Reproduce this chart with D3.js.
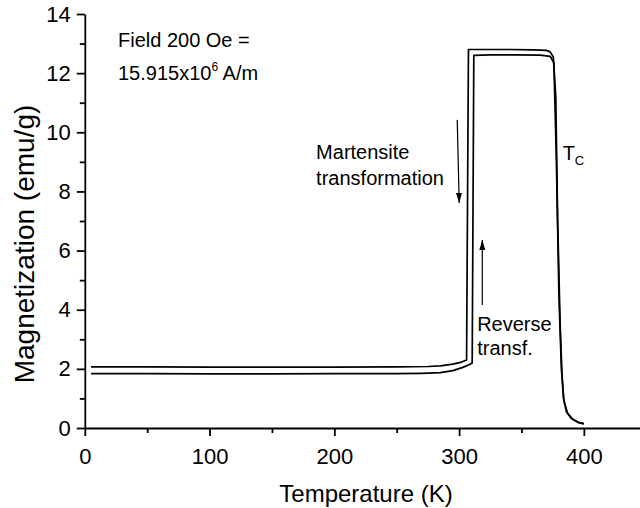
<!DOCTYPE html>
<html>
<head>
<meta charset="utf-8">
<script src="https://cdn.jsdelivr.net/npm/d3@7"></script>
<style>
    body { margin: 0; background: #fff; }
    svg text { font-family: "Liberation Sans", Arial, sans-serif; fill: #000; }
</style>
</head>
<body>
<svg id="chart" width="640" height="508"></svg>
<script>
// Cooling branch (outer loop, higher baseline)
const coolTemp = [5, 50, 100, 150, 200, 250, 275, 285, 295, 302, 306, 307.5, 320, 340, 360, 370, 373, 375.5, 377.5, 379, 381, 382.5, 384, 387, 391, 396, 400];
const coolMag  = [2.07, 2.07, 2.06, 2.06, 2.06, 2.07, 2.08, 2.1, 2.16, 2.23, 2.3, 12.8, 12.8, 12.8, 12.79, 12.77, 12.72, 12.55, 11.2, 7.0, 3.5, 1.8, 0.92, 0.5, 0.3, 0.18, 0.14];

// Warming branch (inner loop, lower baseline)
const heatTemp = [5, 50, 100, 150, 200, 250, 270, 285, 295, 303, 308, 310.5, 311.8, 325, 345, 365, 373, 376, 378, 380, 382, 383.7, 386, 390, 395, 400];
const heatMag  = [1.84, 1.84, 1.83, 1.83, 1.84, 1.84, 1.85, 1.87, 1.94, 2.05, 2.14, 2.2, 12.6, 12.62, 12.62, 12.61, 12.57, 12.35, 9.0, 4.5, 2.0, 1.0, 0.55, 0.32, 0.2, 0.15];

// Axis ticks
const xMajor = [0, 100, 200, 300, 400];
const xMinor = [50, 150, 250, 350];
const yMajor = [0, 2, 4, 6, 8, 10, 12, 14];
const yMinor = [1, 3, 5, 7, 9, 11, 13];

const svg = d3.select('#chart');

const x = d3.scaleLinear().domain([0, 445]).range([84.8, 640]);
const y = d3.scaleLinear().domain([0, 14]).range([428, 14]);

// Axes
const xAxis = svg.append('g')
    .attr('transform', `translate(0, ${y(0)})`)
    .call(d3.axisBottom(x).tickValues(xMajor).tickSize(8).tickPadding(12).tickSizeOuter(0));
svg.append('g')
    .attr('transform', `translate(0, ${y(0)})`)
    .call(d3.axisBottom(x).tickValues(xMinor).tickSize(5).tickFormat('').tickSizeOuter(0))
    .select('.domain').remove();

const yAxis = svg.append('g')
    .attr('transform', `translate(${x(0)}, 0)`)
    .call(d3.axisLeft(y).tickValues(yMajor).tickSize(8).tickPadding(6).tickSizeOuter(0));
svg.append('g')
    .attr('transform', `translate(${x(0)}, 0)`)
    .call(d3.axisLeft(y).tickValues(yMinor).tickSize(5).tickFormat('').tickSizeOuter(0))
    .select('.domain').remove();

svg.selectAll('.domain, .tick line')
    .attr('stroke', '#000')
    .attr('stroke-width', 1.8);
svg.selectAll('.tick text')
    .attr('font-size', '22px')
    .attr('fill', '#000');

// Axis titles
svg.append('text')
    .attr('x', 366)
    .attr('y', 502)
    .attr('text-anchor', 'middle')
    .attr('font-size', '24px')
    .text('Temperature (K)');

svg.append('text')
    .attr('transform', `translate(34, ${(y(0) + y(14)) / 2 + 23}) rotate(-90)`)
    .attr('text-anchor', 'middle')
    .attr('font-size', '28px')
    .text('Magnetization (emu/g)');

// Curves
const line = d3.line()
    .x(d => x(d[0]))
    .y(d => y(d[1]));

[[coolTemp, coolMag], [heatTemp, heatMag]].forEach(([t, m]) => {
    svg.append('path')
        .datum(t.map((v, i) => [v, m[i]]))
        .attr('fill', 'none')
        .attr('stroke', '#000')
        .attr('stroke-width', 1.7)
        .attr('stroke-linejoin', 'round')
        .attr('d', line);
});

// Annotations
function label(tx, my, str, size) {
    return svg.append('text')
        .attr('x', x(tx))
        .attr('y', y(my))
        .attr('font-size', size || '20px')
        .text(str);
}

label(26.6, 12.88, 'Field 200 Oe =');
const field2 = label(26.6, 11.77, '15.915x10');
field2.append('tspan').attr('font-size', '12px').attr('dy', -9).text('6');
field2.append('tspan').attr('dy', 9).text(' A/m');

label(185.4, 9.10, 'Martensite');
label(185.4, 8.22, 'transformation');
label(314.5, 3.28, 'Reverse');
label(314.5, 2.47, 'transf.');

const tc = label(383, 9.06, 'T');
tc.append('tspan').attr('font-size', '13px').attr('dy', 5).text('C');

// Arrows
const defs = svg.append('defs');
defs.append('marker')
    .attr('id', 'head')
    .attr('viewBox', '0 0 10 10')
    .attr('refX', 10)
    .attr('refY', 5)
    .attr('markerWidth', 10)
    .attr('markerHeight', 10)
    .attr('markerUnits', 'userSpaceOnUse')
    .attr('orient', 'auto')
    .append('path')
    .attr('d', 'M0,2 L10,5 L0,8 Z')
    .attr('fill', '#000');

function arrow(t0, m0, t1, m1) {
    svg.append('line')
        .attr('x1', x(t0)).attr('y1', y(m0))
        .attr('x2', x(t1)).attr('y2', y(m1))
        .attr('stroke', '#000')
        .attr('stroke-width', 1.2)
        .attr('marker-end', 'url(#head)');
}

arrow(298.5, 10.42, 300.1, 7.61);
arrow(318.6, 4.16, 318.6, 6.36);
</script>
</body>
</html>
